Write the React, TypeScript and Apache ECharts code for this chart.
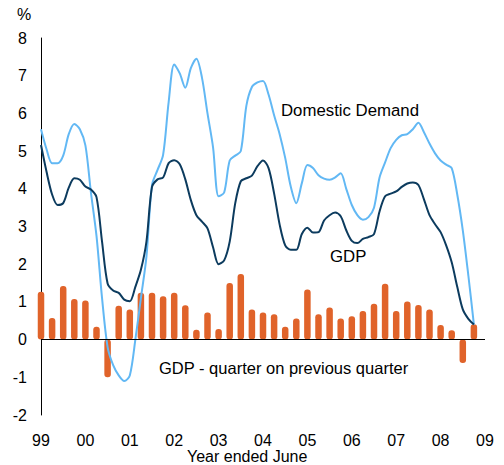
import React, { useEffect, useRef } from "react";
import * as echarts from "echarts";

// Quarterly GDP growth, quarter on previous quarter (%), Jun-1999 .. Mar-2009
const gdpQuarterly = [
  1.27, 0.57, 1.42, 1.08, 1.04, 0.34, -1.0, 0.9, 0.8, 1.24,
  1.24, 1.15, 1.24, 0.91, 0.26, 0.72, 0.28, 1.5, 1.74, 0.8,
  0.72, 0.67, 0.34, 0.56, 1.33, 0.67, 0.85, 0.56, 0.62, 0.76,
  0.95, 1.48, 0.76, 1.01, 0.92, 0.8, 0.39, 0.25, -0.62, 0.41,
];

// Year-ended growth (%), read every half quarter from Jun-1999
const domesticDemand = [
  5.58, 5.05, 4.68, 4.68, 4.88, 5.45, 5.72, 5.58, 5.15, 3.9,
  2.75, 1.1, -0.2, -0.68, -0.95, -1.1, -0.95, 0.0, 1.1, 2.2,
  4.1, 4.5, 4.9, 6.3, 7.3, 7.06, 6.68, 7.2, 7.45, 6.95,
  6.0, 5.1, 3.8, 3.9, 4.75, 4.88, 5.0, 6.2, 6.7, 6.82,
  6.86, 6.5, 5.95, 5.45, 4.82, 4.06, 3.62, 4.15, 4.63, 4.55,
  4.36, 4.27, 4.24, 4.3, 4.41, 4.0, 3.57, 3.3, 3.18, 3.25,
  3.5, 4.3, 4.7, 5.08, 5.3, 5.42, 5.45, 5.58, 5.75, 5.5,
  5.2, 4.94, 4.75, 4.64, 4.55, 3.85, 2.9, 1.7, 0.4,
];

const gdpYearEnded = [
  5.16, 4.45, 3.85, 3.57, 3.62, 4.03, 4.28, 4.24, 4.06, 3.98,
  3.78, 2.6, 1.49, 1.3, 1.24, 1.06, 1.02, 1.4, 1.85, 2.6,
  4.05, 4.25, 4.3, 4.68, 4.76, 4.65, 4.25, 3.7, 3.3, 3.13,
  2.95, 2.45, 2.0, 2.1, 2.6, 3.62, 4.2, 4.28, 4.35, 4.6,
  4.75, 4.55, 3.88, 3.05, 2.5, 2.38, 2.38, 2.8, 2.97, 2.84,
  2.85, 3.16, 3.3, 3.37, 3.27, 2.9, 2.62, 2.56, 2.67, 2.72,
  2.8, 3.4, 3.8, 3.87, 3.93, 4.05, 4.14, 4.17, 4.1, 3.72,
  3.3, 3.06, 2.85, 2.5, 2.05, 1.4, 0.8, 0.55, 0.4,
];

const yearLabels = ["99", "00", "01", "02", "03", "04", "05", "06", "07", "08", "09"];

const FONT = "Liberation Sans, Arial, sans-serif";

export default function App() {
  const ref = useRef<HTMLDivElement>(null);

  useEffect(() => {
    if (!ref.current) return;
    const chart = echarts.init(ref.current, null, { renderer: "svg" });
    const barData = gdpQuarterly.map((v, i) => [i, v]);
    const ddData = domesticDemand.map((v, i) => [i * 0.5, v]);
    const gdpData = gdpYearEnded.map((v, i) => [i * 0.5, v]);

    chart.setOption({
      animation: false,
      backgroundColor: "#ffffff",
      textStyle: { fontFamily: FONT },
      grid: { left: 41, right: 19, top: 38, bottom: 50, containLabel: false },
      xAxis: {
        type: "value",
        min: 0,
        max: 40,
        interval: 4,
        axisLine: { show: false },
        axisTick: { show: false },
        splitLine: { show: false },
        axisLabel: {
          margin: 17,
          fontSize: 16,
          color: "#000",
          fontFamily: FONT,
          formatter: (v: number) => yearLabels[Math.round(v / 4)] ?? "",
        },
      },
      yAxis: {
        type: "value",
        min: -2,
        max: 8,
        interval: 1,
        axisLine: { show: true, lineStyle: { color: "#000", width: 1 } },
        axisTick: { show: false },
        splitLine: { show: false },
        axisLabel: { margin: 14, fontSize: 16, color: "#000", fontFamily: FONT },
      },
      series: [
        {
          type: "bar",
          data: barData,
          barWidth: 6.5,
          clip: true,
          itemStyle: { color: "#E0632A", borderRadius: 3 },
          markLine: {
            silent: true,
            symbol: "none",
            label: { show: false },
            lineStyle: { color: "#000", width: 1, type: "solid" },
            data: [{ yAxis: 0 }],
          },
          z: 2,
        },
        {
          type: "line",
          data: ddData,
          smooth: 0.3,
          showSymbol: false,
          lineStyle: { color: "#62B8F4", width: 2 },
          itemStyle: { color: "#62B8F4" },
          z: 3,
        },
        {
          type: "line",
          data: gdpData,
          smooth: 0.3,
          showSymbol: false,
          lineStyle: { color: "#0C3B5E", width: 2 },
          itemStyle: { color: "#0C3B5E" },
          z: 4,
        },
      ],
      graphic: [
        { type: "text", left: 17, top: 6, style: { text: "%", fill: "#000", font: `16px ${FONT}` } },
        { type: "text", left: 281, top: 102, style: { text: "Domestic Demand", fill: "#000", font: `16.8px ${FONT}` } },
        { type: "text", left: 330, top: 248, style: { text: "GDP", fill: "#000", font: `16.8px ${FONT}` } },
        { type: "text", left: 159, top: 359, style: { text: "GDP - quarter on previous quarter", fill: "#000", font: `16.5px ${FONT}` } },
        { type: "text", left: 187, top: 448, style: { text: "Year ended June", fill: "#000", font: `16px ${FONT}` } },
      ],
    });

    return () => chart.dispose();
  }, []);

  return <div ref={ref} style={{ width: 504, height: 465, position: "absolute", left: 0, top: 0 }} />;
}
